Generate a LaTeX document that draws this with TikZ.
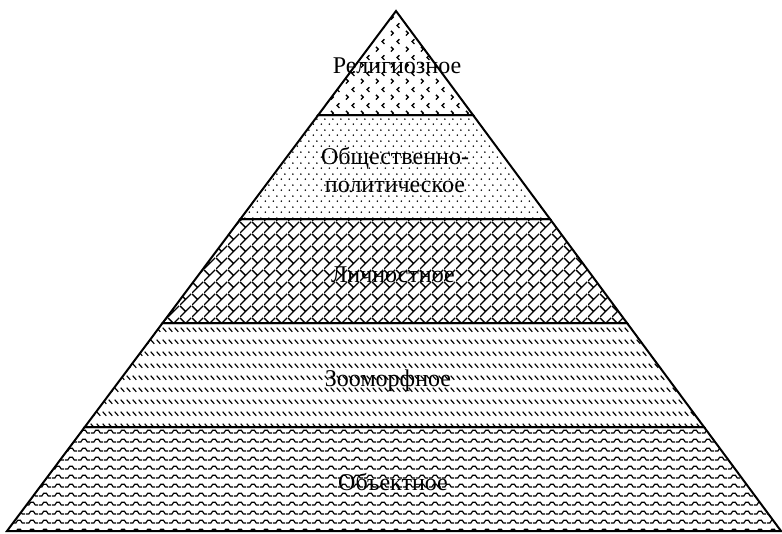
\documentclass[tikz,border=0pt]{standalone}
\usepackage{fontspec}
\setmainfont{Liberation Serif}
\usetikzlibrary{patterns,calc}

\pgfdeclarepatternformonly{confettimarks}{\pgfpointorigin}{\pgfqpoint{15pt}{16pt}}{\pgfqpoint{15pt}{16pt}}{%
  \pgfsetlinewidth{1.4pt}%
  \pgfpathmoveto{\pgfqpoint{10pt}{14.5pt}}\pgfpathlineto{\pgfqpoint{7.5pt}{12pt}}\pgfpathlineto{\pgfqpoint{10pt}{9.5pt}}%
  \pgfpathmoveto{\pgfqpoint{1pt}{6.5pt}}\pgfpathlineto{\pgfqpoint{3.5pt}{4pt}}\pgfpathlineto{\pgfqpoint{1pt}{1.5pt}}%
  \pgfusepath{stroke}}

\pgfdeclarepatternformonly{finedots}{\pgfpointorigin}{\pgfqpoint{8pt}{11pt}}{\pgfqpoint{8pt}{11pt}}{%
  \pgfpathcircle{\pgfqpoint{1.5pt}{2pt}}{0.95pt}%
  \pgfpathcircle{\pgfqpoint{5.5pt}{7.5pt}}{0.95pt}%
  \pgfusepath{fill}}

\pgfdeclarepatternformonly{shinglelines}{\pgfpointorigin}{\pgfqpoint{12pt}{12pt}}{\pgfqpoint{12pt}{12pt}}{%
  \pgfsetlinewidth{1.4pt}%
  \pgfpathmoveto{\pgfqpoint{0pt}{0pt}}\pgfpathlineto{\pgfqpoint{12pt}{12pt}}%
  \pgfpathmoveto{\pgfqpoint{6pt}{6pt}}\pgfpathlineto{\pgfqpoint{0pt}{12pt}}%
  \pgfusepath{stroke}}

\pgfdeclarepatternformonly{dashdiag}{\pgfpointorigin}{\pgfqpoint{6pt}{11.5pt}}{\pgfqpoint{6pt}{11.5pt}}{%
  \pgfsetlinewidth{1.3pt}%
  \pgfpathmoveto{\pgfqpoint{0.8pt}{6.5pt}}\pgfpathlineto{\pgfqpoint{5pt}{2.3pt}}%
  \pgfusepath{stroke}}

\pgfdeclarepatternformonly{wavelines}{\pgfpointorigin}{\pgfqpoint{13pt}{8.5pt}}{\pgfqpoint{13pt}{8.5pt}}{%
  \pgfsetlinewidth{1.3pt}%
  \pgfpathmoveto{\pgfqpoint{0pt}{2pt}}\pgfpathlineto{\pgfqpoint{3pt}{2pt}}\pgfpathlineto{\pgfqpoint{5pt}{5pt}}%
  \pgfpathlineto{\pgfqpoint{8pt}{5pt}}\pgfpathlineto{\pgfqpoint{10pt}{2pt}}\pgfpathlineto{\pgfqpoint{13pt}{2pt}}%
  \pgfusepath{stroke}}

\tikzset{
  layer/.style={draw=black, line width=2pt, line join=miter},
  lbl/.style={font=\fontsize{24}{28}\selectfont, anchor=base, align=center, inner sep=0pt}
}

\begin{document}
\begin{tikzpicture}[x=1pt,y=-1pt]
\useasboundingbox (0,0) rectangle (782,533);
\coordinate (apex) at (396,11);
\coordinate (bl) at (7,531);
\coordinate (br) at (781,531);
\coordinate (l1) at ($(apex)!0.2!(bl)$);
\coordinate (r1) at ($(apex)!0.2!(br)$);
\coordinate (l2) at ($(apex)!0.4!(bl)$);
\coordinate (r2) at ($(apex)!0.4!(br)$);
\coordinate (l3) at ($(apex)!0.6!(bl)$);
\coordinate (r3) at ($(apex)!0.6!(br)$);
\coordinate (l4) at ($(apex)!0.8!(bl)$);
\coordinate (r4) at ($(apex)!0.8!(br)$);

\draw[layer, pattern=confettimarks] (apex) -- (r1) -- (l1) -- cycle;
\draw[layer, pattern=finedots] (l1) -- (r1) -- (r2) -- (l2) -- cycle;
\draw[layer, pattern=shinglelines] (l2) -- (r2) -- (r3) -- (l3) -- cycle;
\draw[layer, pattern=dashdiag] (l3) -- (r3) -- (r4) -- (l4) -- cycle;
\draw[layer, pattern=wavelines] (l4) -- (r4) -- (br) -- (bl) -- cycle;

\node[lbl] (t1) at (397,73) {Религиозное};
\node[lbl] (t2) at (395,192) {Общественно-\\политическое};
\node[lbl] (t3) at (393,282) {Личностное};
\node[lbl] (t4) at (388,386) {Зооморфное};
\node[lbl] (t5) at (393,490) {Объектное};
\end{tikzpicture}
\end{document}
